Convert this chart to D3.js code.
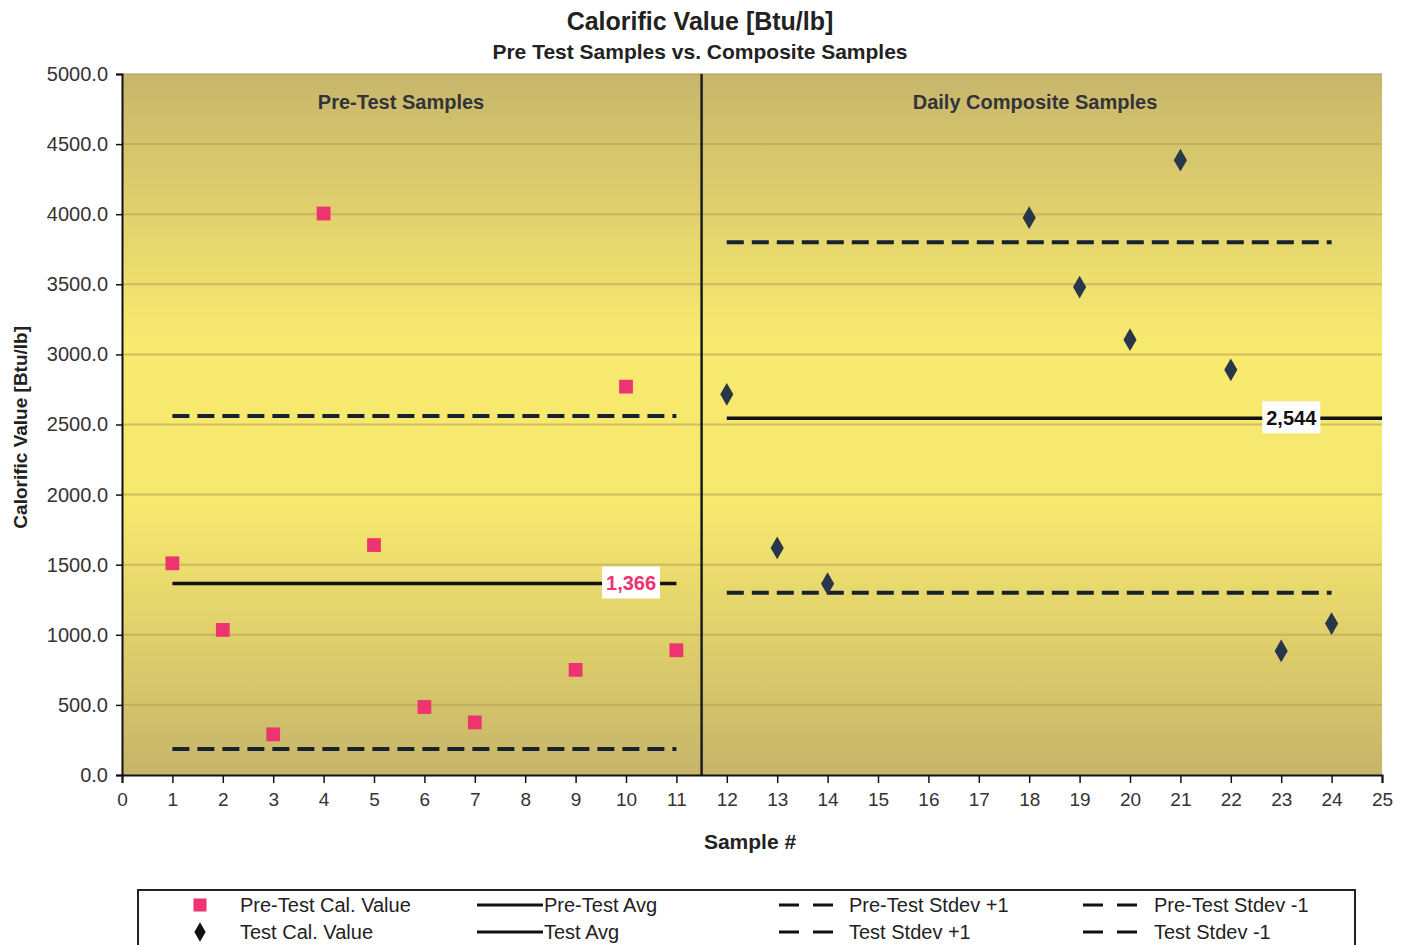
<!DOCTYPE html>
<html>
<head>
<meta charset="utf-8">
<script src="https://cdn.jsdelivr.net/npm/d3@7"></script>
<style>
  body { margin: 0; background: #fff; }
  svg text { font-family: "Liberation Sans", Arial, sans-serif; }
</style>
</head>
<body>
<div id="chart"></div>
<script>
///// DATOS //////
let preSamples = [1, 2, 3, 4, 5, 6, 7, 9, 10, 11];
let preValues = [1510, 1035, 290, 4005, 1640, 485, 375, 750, 2770, 890];
let testSamples = [12, 13, 14, 18, 19, 20, 21, 22, 23, 24];
let testValues = [2715, 1620, 1365, 3975, 3480, 3105, 4385, 2890, 885, 1080];

// avg y desviación
let preAvg = 1366, preStdevUp = 2560, preStdevDown = 185;
let testAvg = 2544, testStdevUp = 3800, testStdevDown = 1300;
let preRange = [1, 11], testRange = [12, 24];
let preLabelAt = 10.1, testLabelAt = 23.2;

let yTicks = [0, 500, 1000, 1500, 2000, 2500, 3000, 3500, 4000, 4500, 5000];
let xTicks = d3.range(0, 26);
let divider = 11.5;

let legendItems = [
    {label: 'Pre-Test Cal. Value', type: 'square'},
    {label: 'Pre-Test Avg', type: 'line'},
    {label: 'Pre-Test Stdev +1', type: 'dash'},
    {label: 'Pre-Test Stdev -1', type: 'dash'},
    {label: 'Test Cal. Value', type: 'diamond'},
    {label: 'Test Avg', type: 'line'},
    {label: 'Test Stdev +1', type: 'dash'},
    {label: 'Test Stdev -1', type: 'dash'}
];

let pink = '#ef3270', navy = '#28374a', dashColor = '#17222e';

///// VISUALIZACIÓN //////
let margin = {top: 74, right: 25, bottom: 170, left: 122};
let W = 1407, H = 945;
let width = W - margin.left - margin.right, height = H - margin.top - margin.bottom;

let svg = d3.select('#chart').append('svg')
    .attr('width', W)
    .attr('height', H);

let defs = svg.append('defs');
let grad = defs.append('linearGradient')
    .attr('id', 'bg')
    .attr('x1', 0).attr('y1', 0).attr('x2', 0).attr('y2', 1);
grad.append('stop').attr('offset', '0%').attr('stop-color', '#c7b66b');
grad.append('stop').attr('offset', '38%').attr('stop-color', '#f8ea6f');
grad.append('stop').attr('offset', '62%').attr('stop-color', '#f6e86e');
grad.append('stop').attr('offset', '100%').attr('stop-color', '#c6b56a');

let chart = svg.append('g')
    .attr('transform', 'translate(' + margin.left + ',' + margin.top + ')');

let x = d3.scaleLinear().domain([0, 25]).range([0, width]);
let y = d3.scaleLinear().domain([0, 5000]).range([height, 0]);

// fondo
chart.append('rect')
    .attr('width', width)
    .attr('height', height)
    .attr('fill', 'url(#bg)');

// rejilla
chart.append('g')
    .selectAll('line')
    .data(yTicks.slice(1))
    .enter()
    .append('line')
    .attr('x1', 0).attr('x2', width)
    .attr('y1', d => y(d)).attr('y2', d => y(d))
    .attr('stroke', '#b4a456')
    .attr('stroke-opacity', 0.6)
    .attr('stroke-width', 2);

// línea divisoria
chart.append('line')
    .attr('x1', x(divider)).attr('x2', x(divider))
    .attr('y1', 0).attr('y2', height)
    .attr('stroke', '#1c1c1c')
    .attr('stroke-width', 2.5);

// títulos de cada bloque
chart.append('text')
    .attr('x', 279)
    .attr('y', 35)
    .attr('text-anchor', 'middle')
    .style('font-weight', 'bold')
    .style('font-size', '20px')
    .attr('fill', '#33333a')
    .text('Pre-Test Samples');

chart.append('text')
    .attr('x', 913)
    .attr('y', 35)
    .attr('text-anchor', 'middle')
    .style('font-weight', 'bold')
    .style('font-size', '20px')
    .attr('fill', '#33333a')
    .text('Daily Composite Samples');

// Líneas de media y desviación
function hLine(range, value, dashed, stroke) {
    chart.append('line')
        .attr('x1', x(range[0])).attr('x2', x(range[1]))
        .attr('y1', y(value)).attr('y2', y(value))
        .attr('stroke', stroke)
        .attr('stroke-width', dashed ? 4 : 3.5)
        .attr('stroke-dasharray', dashed ? '17 8' : null);
}

hLine(preRange, preStdevUp, true, dashColor);
hLine(preRange, preStdevDown, true, dashColor);
hLine(preRange, preAvg, false, '#111');
hLine(testRange, testStdevUp, true, dashColor);
hLine(testRange, testStdevDown, true, dashColor);
hLine([testRange[0], 25], testAvg, false, '#111');

// etiquetas de media
function avgLabel(at, value, color) {
    let g = chart.append('g')
        .attr('transform', 'translate(' + x(at) + ',' + y(value) + ')');
    g.append('rect')
        .attr('x', -29).attr('y', -17)
        .attr('width', 58).attr('height', 32)
        .attr('fill', '#fff');
    g.append('text')
        .attr('text-anchor', 'middle')
        .attr('dy', '0.35em')
        .style('font-weight', 'bold')
        .style('font-size', '20px')
        .attr('fill', color)
        .text(d3.format(',')(value));
}

avgLabel(preLabelAt, preAvg, pink);
avgLabel(testLabelAt, testAvg, '#111');

// Puntos
let preData = preSamples.map((s, i) => ({s: s, v: preValues[i]}));
let testData = testSamples.map((s, i) => ({s: s, v: testValues[i]}));

chart.selectAll('.pre')
    .data(preData)
    .enter()
    .append('path')
    .attr('class', 'pre')
    .attr('d', d3.symbol().type(d3.symbolSquare).size(190))
    .attr('transform', d => 'translate(' + x(d.s) + ',' + y(d.v) + ')')
    .attr('fill', pink);

chart.selectAll('.test')
    .data(testData)
    .enter()
    .append('path')
    .attr('class', 'test')
    .attr('d', d3.symbol().type(d3.symbolDiamond).size(150))
    .attr('transform', d => 'translate(' + x(d.s) + ',' + y(d.v) + ')')
    .attr('fill', navy);

// Ejes
let yAxis = chart.append('g')
    .call(d3.axisLeft(y).tickValues(yTicks).tickFormat(d3.format('.1f')).tickSize(6).tickPadding(8));
let xAxis = chart.append('g')
    .attr('transform', 'translate(0,' + height + ')')
    .call(d3.axisBottom(x).tickValues(xTicks).tickFormat(d3.format('d')).tickSize(8).tickPadding(10));

[yAxis, xAxis].forEach(function(a) {
    a.select('.domain').attr('stroke', '#111').attr('stroke-width', 2);
    a.selectAll('.tick line').attr('stroke', '#111').attr('stroke-width', 1.5);
    a.selectAll('.tick text')
        .style('font-size', '19px')
        .attr('fill', '#333');
});
yAxis.selectAll('.tick text').style('font-size', '20px');

// Títulos
svg.append('text')
    .attr('x', 700).attr('y', 30)
    .attr('text-anchor', 'middle')
    .style('font-weight', 'bold')
    .style('font-size', '25px')
    .attr('fill', '#222')
    .text('Calorific Value [Btu/lb]');

svg.append('text')
    .attr('x', 700).attr('y', 59)
    .attr('text-anchor', 'middle')
    .style('font-weight', 'bold')
    .style('font-size', '21px')
    .attr('fill', '#222')
    .text('Pre Test Samples vs. Composite Samples');

svg.append('text')
    .attr('transform', 'translate(27,' + (margin.top + y(2480)) + ') rotate(-90)')
    .attr('text-anchor', 'middle')
    .style('font-weight', 'bold')
    .style('font-size', '19px')
    .attr('fill', '#222')
    .text('Calorific Value [Btu/lb]');

svg.append('text')
    .attr('x', 750).attr('y', 849)
    .attr('text-anchor', 'middle')
    .style('font-weight', 'bold')
    .style('font-size', '21px')
    .attr('fill', '#222')
    .text('Sample #');

///// LEYENDA //////
let legend = svg.append('g');
legend.append('rect')
    .attr('x', 138).attr('y', 890)
    .attr('width', 1217).attr('height', 70)
    .attr('fill', '#fff')
    .attr('stroke', '#222')
    .attr('stroke-width', 2);

let colX = [200, 477, 779, 1083];
let textX = [240, 544, 849, 1154];
let rowY = [905, 932];

legendItems.forEach(function(item, i) {
    let col = i % 4, row = Math.floor(i / 4);
    let g = legend.append('g');
    let cy = rowY[row];
    if (item.type === 'square') {
        g.append('path')
            .attr('d', d3.symbol().type(d3.symbolSquare).size(170))
            .attr('transform', 'translate(' + colX[col] + ',' + cy + ')')
            .attr('fill', pink);
    } else if (item.type === 'diamond') {
        g.append('path')
            .attr('d', d3.symbol().type(d3.symbolDiamond).size(110))
            .attr('transform', 'translate(' + colX[col] + ',' + cy + ')')
            .attr('fill', '#111');
    } else {
        g.append('line')
            .attr('x1', colX[col]).attr('x2', colX[col] + (item.type === 'line' ? 66 : 57))
            .attr('y1', cy).attr('y2', cy)
            .attr('stroke', '#111')
            .attr('stroke-width', 3)
            .attr('stroke-dasharray', item.type === 'dash' ? '20 14' : null);
    }
    g.append('text')
        .attr('x', textX[col]).attr('y', cy)
        .attr('dy', '0.35em')
        .style('font-size', '20px')
        .attr('fill', '#222')
        .text(item.label);
});
</script>
</body>
</html>
